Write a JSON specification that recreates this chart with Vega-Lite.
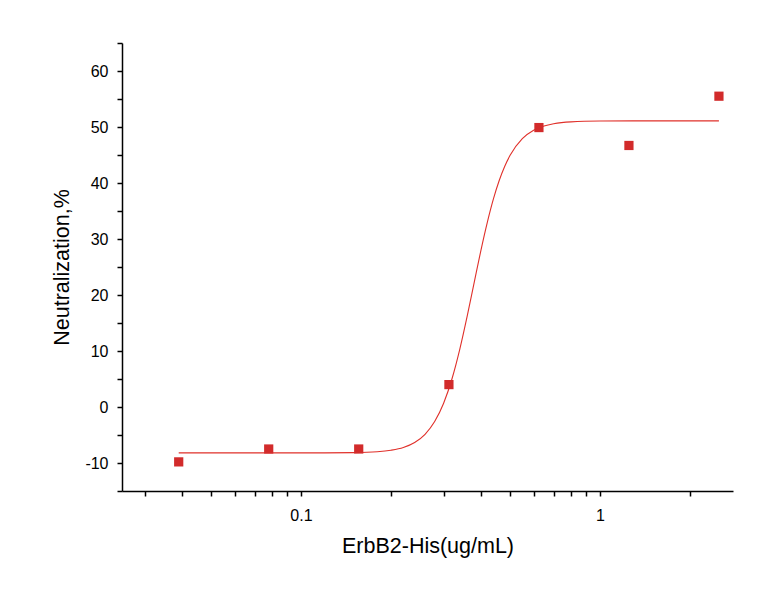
{
  "$schema": "https://vega.github.io/schema/vega-lite/v6.json",
  "autosize": "none",
  "width": 611,
  "height": 448,
  "padding": {"left": 122, "top": 43, "right": 42, "bottom": 117},
  "background": "white",
  "config": {
    "view": {"stroke": null},
    "axis": {
      "labelFont": "Liberation Sans",
      "titleFont": "Liberation Sans",
      "titleFontWeight": "normal",
      "labelColor": "#000",
      "titleColor": "#000",
      "domainColor": "#000",
      "tickColor": "#000",
      "domainWidth": 1.5,
      "tickWidth": 1.5,
      "tickSize": 5,
      "grid": false
    }
  },
  "datasets": {
    "points": [
      {"conc": 0.039, "neut": -9.8},
      {"conc": 0.078, "neut": -7.5},
      {"conc": 0.156, "neut": -7.5},
      {"conc": 0.3125, "neut": 4.0},
      {"conc": 0.625, "neut": 49.9},
      {"conc": 1.25, "neut": 46.7},
      {"conc": 2.5, "neut": 55.5}
    ],
    "curve": [
      {"conc": 0.039, "neut": -8.2},
      {"conc": 0.1, "neut": -8.2},
      {"conc": 0.12, "neut": -8.19},
      {"conc": 0.15, "neut": -8.15},
      {"conc": 0.18, "neut": -7.99},
      {"conc": 0.2, "neut": -7.72},
      {"conc": 0.22, "neut": -7.23},
      {"conc": 0.24, "neut": -6.34},
      {"conc": 0.26, "neut": -4.87},
      {"conc": 0.28, "neut": -2.6},
      {"conc": 0.3, "neut": 0.68},
      {"conc": 0.32, "neut": 5.05},
      {"conc": 0.34, "neut": 10.39},
      {"conc": 0.36, "neut": 16.31},
      {"conc": 0.38, "neut": 22.36},
      {"conc": 0.4, "neut": 28.03},
      {"conc": 0.42, "neut": 32.98},
      {"conc": 0.44, "neut": 37.12},
      {"conc": 0.46, "neut": 40.4},
      {"conc": 0.48, "neut": 42.94},
      {"conc": 0.5, "neut": 44.9},
      {"conc": 0.55, "neut": 47.92},
      {"conc": 0.6, "neut": 49.42},
      {"conc": 0.65, "neut": 50.17},
      {"conc": 0.7, "neut": 50.57},
      {"conc": 0.8, "neut": 50.91},
      {"conc": 1.0, "neut": 51.06},
      {"conc": 1.5, "neut": 51.1},
      {"conc": 2.5, "neut": 51.1}
    ]
  },
  "layer": [
    {
      "data": {"name": "curve"},
      "mark": {"type": "line", "color": "#e0302a", "strokeWidth": 1.1, "interpolate": "monotone"},
      "encoding": {
        "x": {
          "field": "conc", "type": "quantitative",
          "scale": {"type": "log", "domain": [0.0252, 2.786], "nice": false},
          "axis": {
            "title": "ErbB2-His(ug/mL)",
            "values": [0.03, 0.04, 0.05, 0.06, 0.07, 0.08, 0.09, 0.1, 0.2, 0.3, 0.4, 0.5, 0.6, 0.7, 0.8, 0.9, 1, 2],
            "tickCount": 30,
            "labelExpr": "datum.value == 0.1 ? '0.1' : (datum.value == 1 ? '1' : '')",
            "labelFontSize": 16,
            "titleFontSize": 21.5,
            "labelPadding": 11,
            "titlePadding": 12
          }
        },
        "y": {
          "field": "neut", "type": "quantitative",
          "scale": {"domain": [-15, 65], "nice": false},
          "axis": {
            "title": "Neutralization,%",
            "values": [-15, -10, -5, 0, 5, 10, 15, 20, 25, 30, 35, 40, 45, 50, 55, 60, 65],
            "tickCount": 30,
            "labelExpr": "datum.value % 10 == 0 ? toString(datum.value) : ''",
            "labelFontSize": 16,
            "titleFontSize": 21.5,
            "labelPadding": 9,
            "titlePadding": 11
          }
        }
      }
    },
    {
      "data": {"name": "points"},
      "mark": {"type": "point", "shape": "square", "filled": true, "size": 85, "color": "#d22b2b", "opacity": 1},
      "encoding": {
        "x": {"field": "conc", "type": "quantitative"},
        "y": {"field": "neut", "type": "quantitative"}
      }
    }
  ]
}
